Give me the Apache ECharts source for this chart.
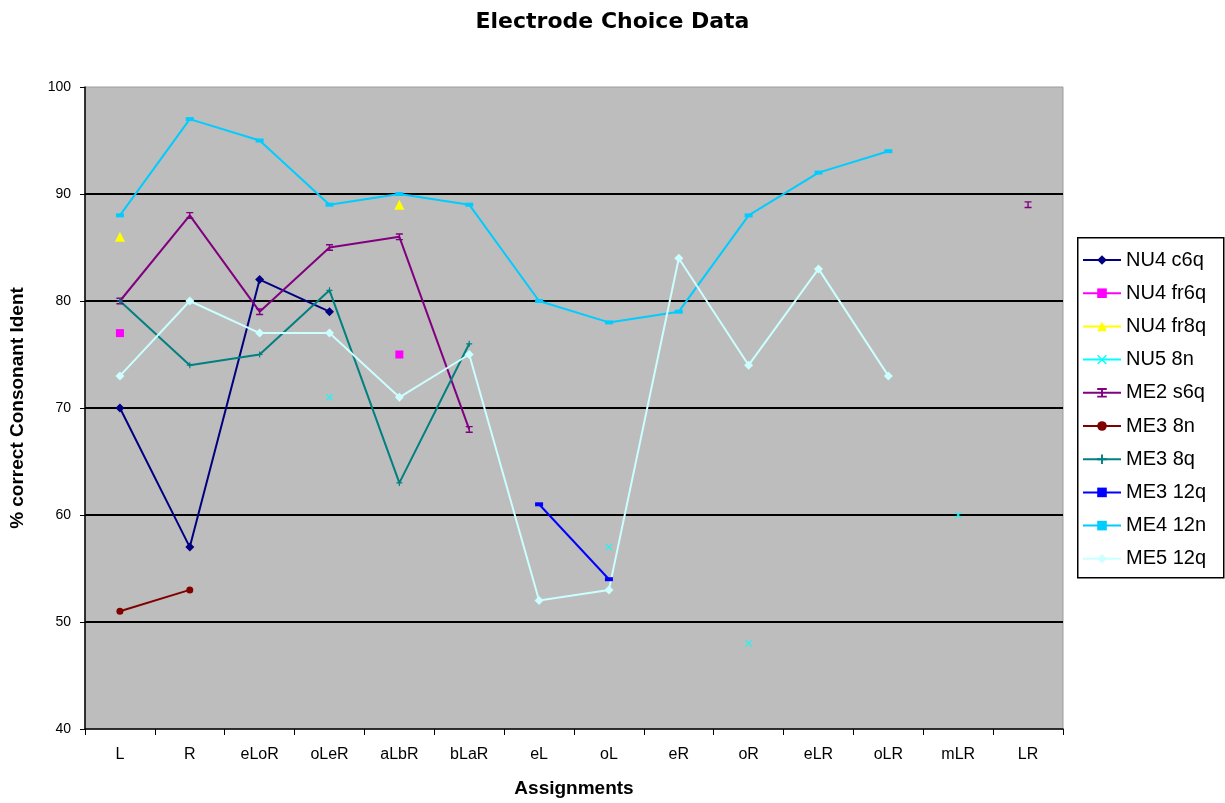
<!DOCTYPE html>
<html>
<head>
<meta charset="utf-8">
<script src="https://cdn.jsdelivr.net/npm/echarts@6/dist/echarts.min.js"></script>
<style>
  html, body { margin: 0; padding: 0; background: #fff; }
  #chart { width: 1225px; height: 803px; }
</style>
</head>
<body>
<div id="chart"></div>
<script>
// Assignment conditions along the x axis
const categories = ['L', 'R', 'eLoR', 'oLeR', 'aLbR', 'bLaR', 'eL', 'oL', 'eR', 'oR', 'eLR', 'oLR', 'mLR', 'LR'];

// % correct consonant identification per listener / processor (null = not tested)
const nu4c6q  = [70, 57, 82, 79, null, null, null, null, null, null, null, null, null, null];
const nu4fr6q = [77, null, null, null, 75, null, null, null, null, null, null, null, null, null];
const nu4fr8q = [86, null, null, null, 89, null, null, null, null, null, null, null, null, null];
const nu58n   = [null, null, null, 71, null, null, null, 57, null, 48, null, null, 60, null];
const me2s6q  = [80, 88, 79, 85, 86, 68, null, null, null, null, null, null, null, 89];
const me38n   = [51, 53, null, null, null, null, null, null, null, null, null, null, null, null];
const me38q   = [80, 74, 75, 81, 63, 76, null, null, null, null, null, null, null, null];
const me312q  = [null, null, null, null, null, null, 61, 54, null, null, null, null, null, null];
const me412n  = [88, 97, 95, 89, 90, 89, 80, 78, 79, 88, 92, 94, null, null];
const me512q  = [73, 80, 77, 77, 71, 75, 52, 53, 84, 74, 83, 73, null, null];

const yTicks = { min: 40, max: 100, step: 10 };

const SYM_X     = 'path://M0,1L1,0L5,4L9,0L10,1L6,5L10,9L9,10L5,6L1,10L0,9L4,5Z';
const SYM_IBEAM = 'path://M0,0H10V2H6V8H10V10H0V8H4V2H0Z';
const SYM_PLUS  = 'path://M4,0H6V4H10V6H6V10H4V6H0V4H4Z';

function line(name, data, color, symbol, size) {
  return {
    name: name,
    type: 'line',
    data: data,
    connectNulls: false,
    showSymbol: true,
    showAllSymbol: true,
    symbol: symbol,
    symbolSize: size,
    itemStyle: { color: color },
    lineStyle: { color: color, width: 2 },
    emphasis: { disabled: true },
    animation: false
  };
}

const series = [
  line('NU4 c6q',  nu4c6q,  '#000080', 'diamond', 9),
  line('NU4 fr6q', nu4fr6q, '#ff00ff', 'rect', 8),
  line('NU4 fr8q', nu4fr8q, '#ffff00', 'triangle', 10),
  line('NU5 8n',   nu58n,   '#00ffff', SYM_X, 7),
  line('ME2 s6q',  me2s6q,  '#800080', SYM_IBEAM, 7),
  line('ME3 8n',   me38n,   '#800000', 'circle', 7),
  line('ME3 8q',   me38q,   '#008080', SYM_PLUS, 6),
  line('ME3 12q',  me312q,  '#0000ff', 'rect', [8, 4]),
  line('ME4 12n',  me412n,  '#00ccff', 'rect', [8, 4]),
  line('ME5 12q',  me512q,  '#ccffff', 'diamond', 9)
];

const chart = echarts.init(document.getElementById('chart'), null, { renderer: 'canvas' });

chart.setOption({
  backgroundColor: '#ffffff',
  animation: false,
  title: {
    text: 'Electrode Choice Data',
    left: 'center',
    top: 6,
    textStyle: { fontFamily: 'DejaVu Sans', fontWeight: 'bold', fontSize: 22, color: '#000' }
  },
  graphic: [{
    type: 'rect',
    left: 1077, top: 237,
    shape: { width: 146, height: 340 },
    style: { fill: '#fff', stroke: '#000', lineWidth: 1.5 },
    z: 0
  }],
  legend: {
    orient: 'vertical',
    left: 1082,
    top: 250,
    itemWidth: 38,
    itemHeight: 12,
    itemGap: 13.2,
    padding: 0,
    z: 5,
    textStyle: { fontFamily: 'Liberation Sans', fontSize: 20, color: '#000' },
    data: series.map(s => s.name),
    selectedMode: false
  },
  grid: {
    left: 85, right: 162, top: 87, bottom: 71,
    show: true,
    backgroundColor: '#bdbdbd',
    borderColor: '#9c9c9c',
    borderWidth: 1
  },
  xAxis: {
    type: 'category',
    data: categories,
    boundaryGap: true,
    name: 'Assignments',
    nameLocation: 'middle',
    nameGap: 50,
    nameTextStyle: { fontFamily: 'Liberation Sans', fontWeight: 'bold', fontSize: 19, color: '#000' },
    axisLine: { lineStyle: { color: '#000', width: 1.5 } },
    axisTick: { show: true, alignWithLabel: false, length: 6, lineStyle: { color: '#000' } },
    axisLabel: { margin: 18, fontFamily: 'Liberation Sans', fontSize: 16, color: '#000', interval: 0 },
    splitLine: { show: false }
  },
  yAxis: {
    type: 'value',
    min: yTicks.min,
    max: yTicks.max,
    interval: yTicks.step,
    name: '% correct Consonant Ident',
    nameLocation: 'middle',
    nameGap: 58,
    nameTextStyle: { fontFamily: 'Liberation Sans', fontWeight: 'bold', fontSize: 19, color: '#000' },
    axisLine: { show: true, lineStyle: { color: '#000', width: 1.5 } },
    axisTick: { show: true, length: 5, lineStyle: { color: '#000' } },
    axisLabel: { margin: 14, fontFamily: 'Liberation Sans', fontSize: 14, color: '#000' },
    splitLine: { show: true, showMinLine: false, showMaxLine: false, lineStyle: { color: '#000', width: 2 } }
  },
  series: series
});
</script>
</body>
</html>
